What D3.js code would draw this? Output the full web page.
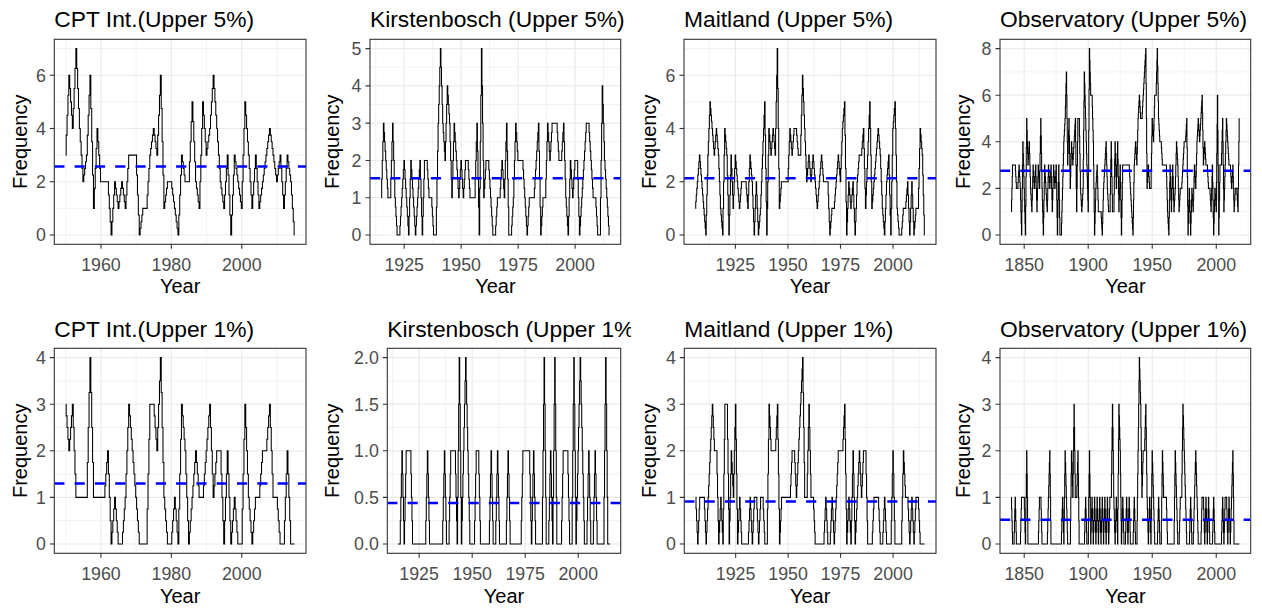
<!DOCTYPE html>
<html>
<head>
<meta charset="utf-8">
<script src="https://cdn.jsdelivr.net/npm/d3@7"></script>
<style>
  html, body { margin: 0; padding: 0; background: #fff; }
  svg { display: block; font-family: "Liberation Sans", Arial, sans-serif; }
</style>
</head>
<body>
<svg id="chart" width="1262" height="611"></svg>
<script>
// ---------------- DATA (annual frequencies) ----------------
const panelTitles = [
  "CPT Int.(Upper 5%)", "Kirstenbosch (Upper 5%)", "Maitland (Upper 5%)", "Observatory (Upper 5%)",
  "CPT Int.(Upper 1%)", "Kirstenbosch (Upper 1%)", "Maitland (Upper 1%)", "Observatory (Upper 1%)"
];
const firstYears = [1950, 1915, 1906, 1840, 1950, 1915, 1906, 1840];

const cptUpper5 = [3,6,4,7,4,2,3,6,1,4, 2,2,2,0,2,1,2,1,3,3, 3,0,1,1,3,4,3,6,1,2,
  2,1,0,3,2,2,5,2,1,5, 3,4,6,4,2,1,3,0,3,2, 1,5,3,1,3,1,2,3,4,3, 2,3,1,3,2,0];
const kirstUpper5 = [1,3,2,1,1,3,1,0,0,1, 2,1,0,2,1,0,1,2,0,2, 2,1,1,0,0,3,5,3,2,4,
  3,1,3,2,1,2,1,2,2,1, 1,1,3,0,5,1,2,2,1,0, 0,1,1,2,1,3,0,0,1,3, 2,2,2,1,0,1,1,1,2,3,
  0,1,1,3,2,3,3,3,2,2, 3,1,0,2,1,2,2,0,1,2, 3,3,2,1,1,0,0,4,2,1,0];
const maitUpper5 = [1,2,3,2,1,0,3,5,4,3, 4,3,1,0,4,3,0,3,1,3, 2,1,2,2,2,1,3,2,0,2,
  0,1,3,5,0,4,3,4,3,7, 1,2,2,2,2,4,3,4,4,3, 3,6,4,2,3,2,3,2,1,2, 3,2,2,2,0,1,1,2,3,2,
  4,5,0,2,1,2,0,2,3,3, 4,1,3,5,1,2,3,4,3,1, 0,2,3,0,4,5,1,0,0,1, 1,2,0,2,0,1,1,4,3,0];
const obsUpper5 = [1,3,3,3,2,2,3,2,0,4, 2,0,5,3,4,2,1,3,2,3, 1,3,2,5,2,0,3,2,1,3,
  2,3,1,3,2,3,0,3,0,0, 2,4,5,7,3,5,2,4,3,4, 5,1,5,5,2,1,2,7,5,3, 1,8,6,6,4,0,2,3,1,1,
  1,0,2,3,4,2,1,1,4,1, 1,4,2,4,1,3,0,3,3,3, 3,3,3,2,1,0,3,4,3,5, 6,5,5,6,7,8,2,3,2,2,
  5,4,6,6,8,5,4,4,3,3, 3,3,1,0,3,1,3,1,2,4, 3,1,2,2,3,4,4,5,0,2, 0,2,1,3,2,4,5,4,5,6,
  3,4,3,3,2,2,1,3,0,2, 1,6,0,3,3,5,1,3,5,4, 3,3,2,3,1,2,2,1,5];
const cptUpper1 = [3,2,3,1,1,1,1,4,1,1, 1,1,2,0,1,0,0,1,3,2, 1,0,0,0,3,3,2,4,1,0,
  0,1,0,3,2,0,1,2,1,1, 2,3,1,2,2,0,2,0,1,0, 0,3,1,0,1,1,2,2,3,1, 1,0,0,2,0,0];
const kirstUpper1 = [0,0,1,0,1,1,1,0,0,0, 0,0,0,0,1,0,0,0,0,0, 0,0,1,0,0,1,1,1,0,2,
  0,1,2,1,0,0,0,1,1,0, 0,0,0,0,1,0,0,1,0,0, 0,0,1,0,0,0,0,0,0,1, 1,1,1,0,1,0,0,0,0,2,
  0,0,1,0,2,0,0,0,1,1, 1,0,0,2,0,1,2,1,0,0, 1,0,0,1,0,0,0,0,2,0,0];
const maitUpper1 = [1,0,1,1,1,0,1,2,3,2, 2,0,1,0,3,3,0,2,1,3, 0,1,0,0,0,0,1,0,1,1,
  0,1,1,0,0,3,2,2,2,3, 0,1,1,1,1,1,2,2,1,2, 3,4,1,1,3,1,1,0,0,0, 0,0,1,0,0,1,0,1,2,2,
  2,3,0,1,0,2,0,1,2,1, 2,2,0,0,0,1,1,1,0,0, 1,0,0,0,2,0,0,0,0,2, 1,1,0,1,0,1,1,0,0,0];
const obsUpper1 = [1,0,0,1,0,0,0,0,1,1, 1,0,2,0,0,0,0,0,0,0, 0,0,1,1,0,0,0,0,0,1,
  2,0,0,0,0,0,0,0,0,0, 1,0,2,1,0,0,0,2,1,3, 1,1,2,0,0,0,0,0,1,0, 0,2,0,1,0,1,0,1,0,1,
  0,1,0,1,0,1,0,1,1,3, 1,0,1,0,3,2,0,1,0,0, 1,0,1,0,0,0,1,0,0,2, 4,3,1,2,2,3,1,0,1,0,
  2,1,0,0,0,1,0,0,2,1, 1,1,0,0,0,0,0,0,2,1, 0,0,1,1,3,2,1,0,0,0, 1,0,0,1,2,1,0,0,0,1,
  1,0,1,0,1,0,0,0,1,0, 0,0,0,0,0,1,0,1,1,0, 1,0,1,2,0,0,0,0,0];

const meanLevels = [2.57, 1.52, 2.13, 2.76, 1.30, 0.44, 0.91, 0.52];

const yTickValues = [[0,2,4,6],[0,1,2,3,4,5],[0,2,4,6],[0,2,4,6,8],
                     [0,1,2,3,4],[0,0.5,1,1.5,2],[0,1,2,3,4],[0,1,2,3,4]];
const xTickValues = [[1960,1980,2000],[1925,1950,1975,2000],[1925,1950,1975,2000],[1850,1900,1950,2000],
                     [1960,1980,2000],[1925,1950,1975,2000],[1925,1950,1975,2000],[1850,1900,1950,2000]];
const yTickDecimals = [0,0,0,0,0,1,0,0];

const seriesList = [cptUpper5, kirstUpper5, maitUpper5, obsUpper5, cptUpper1, kirstUpper1, maitUpper1, obsUpper1];

// ---------------- LAYOUT ----------------
const cellLeft = [0, 315.5, 631, 946.5];
const cellWidth = 315.5;
const panelLeft = [[54.3, 370, 684, 1000], [54.3, 387.3, 684.3, 1000]];
const panelRight = [306, 620.7, 936, 1250.7];
const panelTop = [39.3, 348.3];
const panelBottom = [244.3, 553.3];
const titleBase = [27, 337];
const tickBase = [271, 580];
const xTitleBase = [293, 603];
const yTitleCapLeft = [12.5, 325, 641.7, 956];

// staircase rendering of the transition between consecutive annual values
function curveStair(context) {
  return {
    areaStart() {}, areaEnd() {},
    lineStart() { this._p = 0; },
    lineEnd() {},
    point(x, y) {
      x = +x; y = +y;
      if (!this._p) { this._p = 1; context.moveTo(x, y); }
      else {
        const x0 = this._x, y0 = this._y;
        if (y === y0) context.lineTo(x, y);
        else {
          const n = 4;
          for (let k = 1; k <= n; k++) {
            const xj = x0 + (x - x0) * (k - 0.5) / n;
            context.lineTo(xj, y0 + (y - y0) * (k - 1) / n);
            context.lineTo(xj, y0 + (y - y0) * k / n);
          }
          context.lineTo(x, y);
        }
      }
      this._x = x; this._y = y;
    }
  };
}

function minorsOf(ticks, domain) {
  const step = ticks[1] - ticks[0];
  const out = [];
  for (let v = ticks[0] - step / 2; v <= ticks[ticks.length - 1] + step / 2 + 1e-9; v += step) {
    if (v >= domain[0] && v <= domain[1]) out.push(v);
  }
  return out;
}

const svg = d3.select("#chart");
const defs = svg.append("defs");

seriesList.forEach((vals, i) => {
  const row = i < 4 ? 0 : 1, col = i % 4;
  const data = vals.map((v, j) => ({ year: firstYears[i] + j, value: v }));

  const xExt = d3.extent(data, d => d.year);
  const xPad = (xExt[1] - xExt[0]) * 0.05;
  const xDom = [xExt[0] - xPad, xExt[1] + xPad];
  const yMax = d3.max(data, d => d.value);
  const yDom = [-yMax * 0.05, yMax * 1.05];

  const L = panelLeft[row][col], R = panelRight[col], T = panelTop[row], B = panelBottom[row];
  const x = d3.scaleLinear().domain(xDom).range([L, R]);
  const y = d3.scaleLinear().domain(yDom).range([B, T]);

  const clipId = "cell" + i;
  defs.append("clipPath").attr("id", clipId)
    .append("rect").attr("x", cellLeft[col]).attr("y", row === 0 ? 0 : 305.5)
    .attr("width", cellWidth).attr("height", 305.5);
  const cell = svg.append("g").attr("clip-path", `url(#${clipId})`);

  const pclip = "pan" + i;
  defs.append("clipPath").attr("id", pclip)
    .append("rect").attr("x", L).attr("y", T).attr("width", R - L).attr("height", B - T);

  cell.append("rect").attr("x", L).attr("y", T).attr("width", R - L).attr("height", B - T).attr("fill", "#fff");

  const grid = cell.append("g").attr("clip-path", `url(#${pclip})`);
  const xt = xTickValues[i], yt = yTickValues[i];
  minorsOf(xt, xDom).forEach(v => grid.append("line")
    .attr("x1", x(v)).attr("x2", x(v)).attr("y1", T).attr("y2", B)
    .attr("stroke", "#EBEBEB").attr("stroke-width", 0.6));
  minorsOf(yt, yDom).forEach(v => grid.append("line")
    .attr("x1", L).attr("x2", R).attr("y1", y(v)).attr("y2", y(v))
    .attr("stroke", "#EBEBEB").attr("stroke-width", 0.6));
  xt.forEach(v => grid.append("line")
    .attr("x1", x(v)).attr("x2", x(v)).attr("y1", T).attr("y2", B)
    .attr("stroke", "#EBEBEB").attr("stroke-width", 1.2));
  yt.forEach(v => grid.append("line")
    .attr("x1", L).attr("x2", R).attr("y1", y(v)).attr("y2", y(v))
    .attr("stroke", "#EBEBEB").attr("stroke-width", 1.2));

  const line = d3.line().x(d => x(d.year)).y(d => y(d.value)).curve(curveStair);
  grid.append("path").datum(data).attr("d", line)
    .attr("fill", "none").attr("stroke", "#000").attr("stroke-width", 1.05);

  grid.append("line").attr("x1", L).attr("x2", R)
    .attr("y1", y(meanLevels[i])).attr("y2", y(meanLevels[i]))
    .attr("stroke", "#0000FF").attr("stroke-width", 2.5)
    .attr("stroke-dasharray", "10.15,10.15");

  cell.append("rect").attr("x", L).attr("y", T).attr("width", R - L).attr("height", B - T)
    .attr("fill", "none").attr("stroke", "#333333").attr("stroke-width", 1.1);

  const fmt = d3.format("." + yTickDecimals[i] + "f");
  xt.forEach(v => {
    cell.append("line").attr("x1", x(v)).attr("x2", x(v)).attr("y1", B).attr("y2", B + 4.5)
      .attr("stroke", "#333333").attr("stroke-width", 1.1);
    cell.append("text").attr("x", x(v)).attr("y", tickBase[row])
      .attr("text-anchor", "middle").attr("font-size", "17.8px").attr("fill", "#4D4D4D").text(v);
  });
  yt.forEach(v => {
    cell.append("line").attr("x1", L - 4.5).attr("x2", L).attr("y1", y(v)).attr("y2", y(v))
      .attr("stroke", "#333333").attr("stroke-width", 1.1);
    cell.append("text").attr("x", L - 8.5).attr("y", y(v)).attr("dy", "0.36em")
      .attr("text-anchor", "end").attr("font-size", "17.8px").attr("fill", "#4D4D4D").text(fmt(v));
  });

  cell.append("text").attr("x", L).attr("y", titleBase[row])
    .attr("font-size", "22.8px").attr("fill", "#000").text(panelTitles[i]);
  cell.append("text").attr("x", (L + R) / 2).attr("y", xTitleBase[row])
    .attr("text-anchor", "middle").attr("font-size", "20px").attr("fill", "#000").text("Year");
  cell.append("text")
    .attr("transform", `translate(${yTitleCapLeft[col] + 14.3},${(T + B) / 2}) rotate(-90)`)
    .attr("text-anchor", "middle").attr("font-size", "20px").attr("fill", "#000").text("Frequency");
});
</script>
</body>
</html>
